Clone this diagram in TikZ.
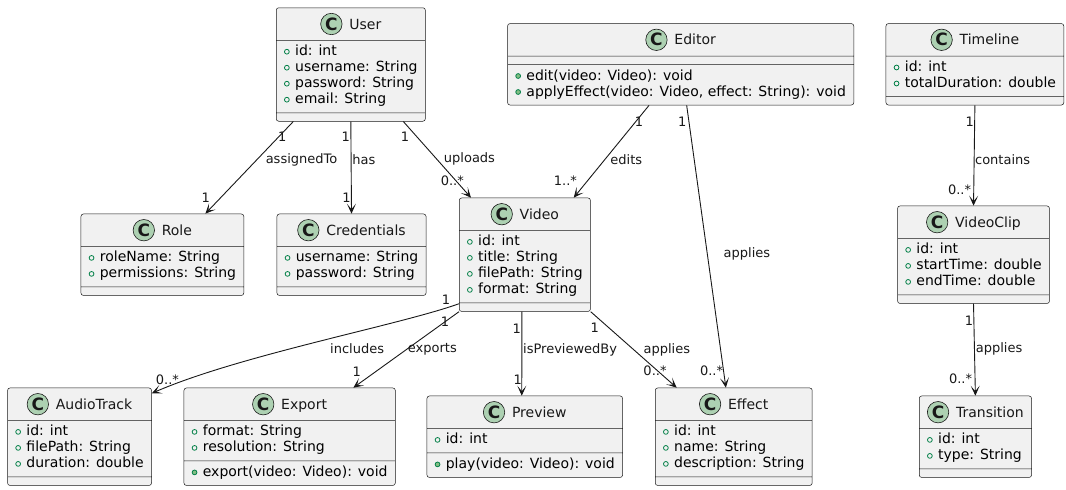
\documentclass[tikz,border=0pt]{standalone}
\usepackage{fontspec}
\setmainfont{DejaVu Sans}
\usetikzlibrary{shapes.multipart,arrows.meta,calc}
\usepackage{xcolor}
\definecolor{ink}{HTML}{181818}
\definecolor{boxfill}{HTML}{F1F1F1}
\definecolor{badge}{HTML}{ADD1B2}
\definecolor{vis}{HTML}{038048}
\definecolor{visfill}{HTML}{84BE84}
\tikzset{
cls/.style={
  rectangle split,
  rectangle split parts=3,
  rectangle split part align={center,left,left},
  draw=ink, line width=0.5pt, fill=boxfill,
  rounded corners=2.5pt,
  inner xsep=7.8pt, inner ysep=4pt,
  anchor=north west,
  text=ink,
  font=\fontsize{14}{16}\selectfont
  },
assoc/.style={draw=ink, line width=0.9pt, -{Stealth[length=10pt,width=9pt,inset=5.5pt]}},
lbl/.style={font=\fontsize{13}{15}\selectfont, text=ink, inner sep=0pt}
}
% class header: green C badge + name
\newcommand\hd[1]{\rule[-6.9pt]{0pt}{24pt}\makebox[22pt]{\tikz[baseline={(0,-5.1pt)}]\filldraw[fill=badge,draw=ink,line width=0.6pt] (0,0) circle (10.7pt);}\hspace{-22pt}\makebox[22pt]{\raisebox{-1pt}{\fontsize{17}{17}\selectfont\bfseries C}}\hspace{7pt}#1}
% field / method rows, and an empty compartment
\newcommand\rows[1]{\begin{tabular}{@{}l@{}}#1\end{tabular}}
\newcommand\nil{\rule{0pt}{0.01pt}}
\newcommand\fl[1]{\strut\tikz[baseline=-4pt]\draw[draw=vis,line width=0.8pt] (0,0) circle (2.4pt);\hspace{5.5pt}#1}
\newcommand\mt[1]{\strut\tikz[baseline=-4pt]\filldraw[fill=visfill,draw=vis,line width=0.8pt] (0,0) circle (2.4pt);\hspace{5.5pt}#1}

\begin{document}
\begin{tikzpicture}[x=1pt,y=1pt]
    \useasboundingbox (0,0) rectangle (1066,-490);

    % top row
    \node[cls, minimum width=147.3pt] (user) at (276,-7.5)
        {\hd{User}\nodepart{two}\rows{\fl{id: int}\\\fl{username: String}\\\fl{password: String}\\\fl{email: String}}\nodepart{three}\nil};
    \node[cls, minimum width=342pt] (editor) at (507.3,-23.3)
        {\hd{Editor}\nodepart{two}\nil\nodepart{three}\rows{\mt{edit(video: Video): void}\\\mt{applyEffect(video: Video, effect: String): void}}};
    \node[cls, minimum width=174.3pt] (timeline) at (885.7,-23.3)
        {\hd{Timeline}\nodepart{two}\rows{\fl{id: int}\\\fl{totalDuration: double}}\nodepart{three}\nil};

    % middle row
    \node[cls, minimum width=160.3pt] (role) at (80.7,-213.7)
        {\hd{Role}\nodepart{two}\rows{\fl{roleName: String}\\\fl{permissions: String}}\nodepart{three}\nil};
    \node[cls, minimum width=146.6pt] (credentials) at (276.7,-213.7)
        {\hd{Credentials}\nodepart{two}\rows{\fl{username: String}\\\fl{password: String}}\nodepart{three}\nil};
    \node[cls, minimum width=128pt] (video) at (459,-197.7)
        {\hd{Video}\nodepart{two}\rows{\fl{id: int}\\\fl{title: String}\\\fl{filePath: String}\\\fl{format: String}}\nodepart{three}\nil};
    \node[cls, minimum width=150pt] (videoclip) at (897.3,-205.7)
        {\hd{VideoClip}\nodepart{two}\rows{\fl{id: int}\\\fl{startTime: double}\\\fl{endTime: double}}\nodepart{three}\nil};

    % bottom row
    \node[cls, minimum width=141pt] (audio) at (7.3,-387.7)
        {\hd{AudioTrack}\nodepart{two}\rows{\fl{id: int}\\\fl{filePath: String}\\\fl{duration: double}}\nodepart{three}\nil};
    \node[cls, minimum width=208.6pt] (export) at (183.7,-387.7)
        {\hd{Export}\nodepart{two}\rows{\fl{format: String}\\\fl{resolution: String}}\nodepart{three}\rows{\mt{export(video: Video): void}}};
    \node[cls, minimum width=192.6pt] (preview) at (426.7,-395.7)
        {\hd{Preview}\nodepart{two}\rows{\fl{id: int}}\nodepart{three}\rows{\mt{play(video: Video): void}}};
    \node[cls, minimum width=154.3pt] (effect) at (655,-387.7)
        {\hd{Effect}\nodepart{two}\rows{\fl{id: int}\\\fl{name: String}\\\fl{description: String}}\nodepart{three}\nil};
    \node[cls, minimum width=108.3pt] (transition) at (919,-395.7)
        {\hd{Transition}\nodepart{two}\rows{\fl{id: int}\\\fl{type: String}}\nodepart{three}\nil};

    % associations
    \draw[assoc] ($(user.south west)+(17.3,0)$) -- ($(role.north east)+(-38.7,0)$)
        node[lbl, at start, shift={(-11,-15)}] {1}
        node[lbl, midway, shift={(52.2,7.85)}] {assignedTo}
        node[lbl, at end, shift={(0.4,16.4)}] {1};
    \draw[assoc] (user.south) -- (credentials.north)
        node[lbl, at start, shift={(-5,-15)}] {1}
        node[lbl, midway, shift={(12.65,7.85)}] {has}
        node[lbl, at end, shift={(-5,16.4)}] {1};
    \draw[assoc] ($(user.south east)+(-22.3,0)$) -- ($(video.north west)+(12,0)$)
        node[lbl, at start, shift={(1.7,-15)}] {1}
        node[lbl, midway, shift={(32.3,0.55)}] {uploads}
        node[lbl, at end, shift={(-18.7,16.7)}] {0..*};
    \draw[assoc] ($(editor.south)+(-31.6,0)$) -- ($(video.north east)+(-17,0)$)
        node[lbl, at start, shift={(-10,-16.7)}] {1}
        node[lbl, midway, shift={(14.95,-7.8)}] {edits}
        node[lbl, at end, shift={(-8.3,16.7)}] {1..*};
    \draw[assoc] ($(editor.south)+(6,0)$) -- ($(effect.north)+(-7.85,0)$)
        node[lbl, at start, shift={(-4.3,-16.7)}] {1}
        node[lbl, midway, shift={(40.7,-7.5)}] {applies}
        node[lbl, at end, shift={(-14.3,17)}] {0..*};
    \draw[assoc] (timeline.south) -- (videoclip.north)
        node[lbl, at start, shift={(-5.15,-16.7)}] {1}
        node[lbl, midway, shift={(28.4,-3.8)}] {contains}
        node[lbl, at end, shift={(-14,15.7)}] {0..*};
    \draw[assoc] (videoclip.south) -- (transition.north)
        node[lbl, at start, shift={(-4.6,-16.6)}] {1}
        node[lbl, midway, shift={(24.6,0.4)}] {applies}
        node[lbl, at end, shift={(-14.85,17.4)}] {0..*};
    \draw[assoc] ($(video.south west)+(0,8)$) .. controls (400,-325) and (240,-355) .. ($(audio.north east)+(0,-5.6)$)
        node[lbl, at start, shift={(-13,4.4)}] {1}
        node[lbl, midway, shift={(40.8,-6.4)}] {includes}
        node[lbl, at end, shift={(15.7,13.3)}] {0..*};
    \draw[assoc] (video.south west) -- ($(export.north)+(63.7,0)$)
        node[lbl, at start, shift={(-14,-10)}] {1}
        node[lbl, midway, shift={(26.2,0.55)}] {exports}
        node[lbl, at end, shift={(3.3,16)}] {1};
    \draw[assoc] ($(video.south)+(-3,0)$) -- ($(preview.north)+(-3,0)$)
        node[lbl, at start, shift={(-5,-16.7)}] {1}
        node[lbl, midway, shift={(48.3,3.55)}] {isPreviewedBy}
        node[lbl, at end, shift={(-4,16.4)}] {1};
    \draw[assoc] (video.south east) -- ($(effect.north west)+(21.7,0)$)
        node[lbl, at start, shift={(4,-15.7)}] {1}
        node[lbl, midway, shift={(33.15,-0.45)}] {applies}
        node[lbl, at end, shift={(-21.7,17)}] {0..*};

\end{tikzpicture}
\end{document}
